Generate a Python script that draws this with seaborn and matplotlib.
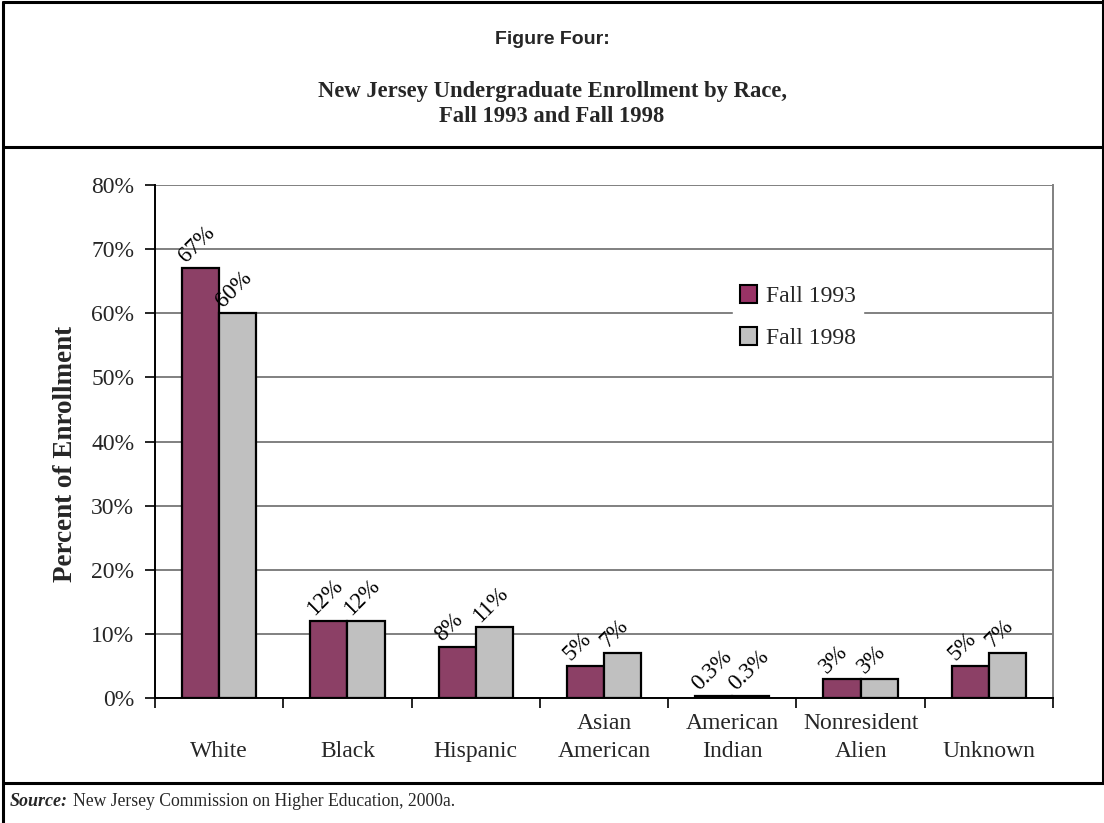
import matplotlib
matplotlib.use("Agg")
import matplotlib.pyplot as plt
from matplotlib.lines import Line2D
from matplotlib.patches import Patch
import pandas as pd
import seaborn as sns

# Data
categories = ["White", "Black", "Hispanic", "Asian\nAmerican", "American\nIndian",
              "Nonresident\nAlien", "Unknown"]
fall_1993 = [67, 12, 8, 5, 0.3, 3, 5]
fall_1998 = [60, 12, 11, 7, 0.3, 3, 7]
labels_1993 = ["67%", "12%", "8%", "5%", "0.3%", "3%", "5%"]
labels_1998 = ["60%", "12%", "11%", "7%", "0.3%", "3%", "7%"]
series = ["Fall 1993", "Fall 1998"]
y_ticks = [0, 10, 20, 30, 40, 50, 60, 70, 80]

COLORS = {"Fall 1993": "#993366", "Fall 1998": "#C0C0C0"}
SERIF = "Liberation Serif"

sns.set_theme(style="white")
plt.rcParams["font.family"] = [SERIF, "DejaVu Serif"]

df = pd.DataFrame({
    "category": categories * 2,
    "value": fall_1993 + fall_1998,
    "series": [series[0]] * len(categories) + [series[1]] * len(categories),
})

fig = plt.figure(figsize=(11.04, 8.23), dpi=100)
ax = fig.add_axes([155 / 1104, 1 - 698 / 823, 898 / 1104, 513 / 823])

sns.barplot(data=df, x="category", y="value", hue="series", palette=COLORS,
            width=0.58, edgecolor="black", linewidth=1.6, ax=ax, legend=False)

# value labels, rotated like the original
for cont, labs in zip(ax.containers, [labels_1993, labels_1998]):
    for bar, lab in zip(cont, labs):
        x = bar.get_x() + bar.get_width() / 2
        ax.annotate(lab, (x, bar.get_height()), xytext=(-8, 1),
                    textcoords="offset points", rotation=45,
                    rotation_mode="anchor", ha="left", va="bottom",
                    fontsize=16.5, color="black")

ax.set_ylim(0, 80)
ax.set_xlim(-0.5, len(categories) - 0.5)
ax.set_yticks(y_ticks)
ax.set_yticklabels([f"{v}%" for v in y_ticks], fontsize=17)
ax.set_xticks(range(len(categories)))
ax.set_xticklabels([c if "\n" in c else "\n" + c for c in categories], fontsize=17,
                   linespacing=1.45)
ax.set_xticks([i - 0.5 for i in range(len(categories) + 1)], minor=True)
ax.tick_params(axis="x", which="major", length=0, pad=10.5)
ax.tick_params(axis="x", which="minor", length=7, width=1.2, color="black",
               direction="out", bottom=True)
ax.tick_params(axis="y", length=7, width=1.2, color="black", direction="out",
               left=True, pad=8)
ax.set_xlabel("")
ax.set_ylabel("Percent of Enrollment", fontsize=19.5, fontweight="bold")
ax.yaxis.set_label_coords(-0.086, 0.475)

ax.yaxis.grid(True, color="#808080", linewidth=1.4)
ax.set_axisbelow(True)
for side in ["left", "bottom"]:
    ax.spines[side].set_color("black")
    ax.spines[side].set_linewidth(1.4)
ax.spines["right"].set_color("#808080")
ax.spines["right"].set_linewidth(1.4)
ax.spines["top"].set_visible(False)

handles = [Patch(facecolor=COLORS[s], edgecolor="black", linewidth=1.5, label=s)
           for s in series]
ax.legend(handles=handles, loc="center left", bbox_to_anchor=(0.63, 0.742),
          frameon=True, framealpha=1, edgecolor="white", fancybox=False,
          fontsize=17, handlelength=0.75, handleheight=0.75, handletextpad=0.35,
          labelspacing=0.85, borderpad=0.3)

# titles
fig.text(0.5, 1 - 40 / 823, "Figure Four:", ha="center", va="center",
         fontsize=14, fontweight="bold", family=["Liberation Sans", "DejaVu Sans"])
fig.text(0.5, 1 - 104 / 823, "New Jersey Undergraduate Enrollment by Race,\nFall 1993 and Fall 1998",
         ha="center", va="center", fontsize=16.3, fontweight="bold", linespacing=1.25)

# frame lines
lw = 2.2
fig.add_artist(Line2D([3 / 1104, 3 / 1104], [0, 1 - 2 / 823], color="black", lw=lw))
fig.add_artist(Line2D([3 / 1104, 1], [1 - 2 / 823, 1 - 2 / 823], color="black", lw=lw))
fig.add_artist(Line2D([1 - 1 / 1104, 1 - 1 / 1104], [1 - 783 / 823, 1], color="black", lw=lw))
fig.add_artist(Line2D([3 / 1104, 1], [1 - 147 / 823, 1 - 147 / 823], color="black", lw=lw))
fig.add_artist(Line2D([3 / 1104, 1], [1 - 783 / 823, 1 - 783 / 823], color="black", lw=lw))

# source note
src = fig.text(10 / 1104, 1 - 801 / 823, "Source:", ha="left", va="center",
               fontsize=13, fontweight="bold", style="italic")
fig.canvas.draw()
ext = src.get_window_extent(fig.canvas.get_renderer())
fig.text((ext.x1 + 5) / 1104, 1 - 801 / 823,
         "New Jersey Commission on Higher Education, 2000a.",
         ha="left", va="center", fontsize=12.7)

fig.savefig("out.png", dpi=100)
